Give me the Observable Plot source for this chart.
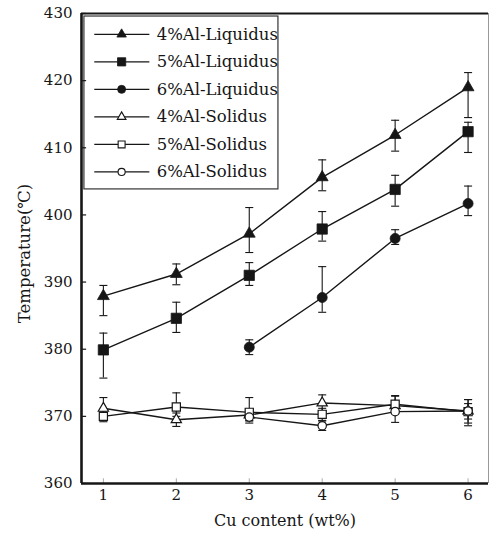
<!DOCTYPE html>
<html>
<head>
<meta charset="utf-8">
<script src="https://cdn.jsdelivr.net/npm/d3@7"></script>
<script src="https://cdn.jsdelivr.net/npm/@observablehq/plot@0.6"></script>
<style>
  html, body { margin: 0; padding: 0; background: #fff; }
</style>
</head>
<body>
<div id="chart"></div>
<script>
// ---- data ----
const cu = [1, 2, 3, 4, 5, 6];
const xTicks = [1, 2, 3, 4, 5, 6];
const yTicks = [360, 370, 380, 390, 400, 410, 420, 430];

const seriesNames = ["4%Al-Liquidus", "5%Al-Liquidus", "6%Al-Liquidus", "4%Al-Solidus", "5%Al-Solidus", "6%Al-Solidus"];
const seriesSymbols = ["triangle", "square", "circle", "triangle", "square", "circle"];
const seriesFilled = [true, true, true, false, false, false];

const liq4 = [387.9, 391.2, 397.2, 405.6, 411.9, 419.0];
const liq4Lo = [385.0, 389.6, 394.4, 403.6, 409.5, 414.5];
const liq4Hi = [389.5, 392.7, 401.1, 408.2, 414.1, 421.2];

const liq5 = [379.9, 384.6, 391.0, 397.9, 403.8, 412.4];
const liq5Lo = [375.7, 382.5, 389.5, 396.1, 401.3, 409.3];
const liq5Hi = [382.4, 387.0, 392.9, 400.5, 405.9, 413.8];

const liq6 = [null, null, 380.3, 387.7, 396.5, 401.7];
const liq6Lo = [null, null, 379.2, 385.5, 395.6, 399.9];
const liq6Hi = [null, null, 381.4, 392.3, 397.8, 404.3];

const sol4 = [371.2, 369.5, 370.2, 372.0, 371.6, 370.8];
const sol4Lo = [369.8, 368.5, 369.4, 370.8, 370.4, 369.0];
const sol4Hi = [372.8, 370.5, 371.0, 373.2, 373.0, 372.5];

const sol5 = [370.0, 371.4, 370.6, 370.3, 371.8, 370.7];
const sol5Lo = [369.2, 370.0, 369.0, 369.4, 370.5, 368.6];
const sol5Hi = [370.8, 373.5, 372.8, 371.2, 373.1, 372.5];

const sol6 = [null, null, 369.9, 368.6, 370.7, 370.8];
const sol6Lo = [null, null, 369.3, 367.9, 369.1, 369.6];
const sol6Hi = [null, null, 370.5, 369.3, 371.6, 371.9];

const seriesValues = [liq4, liq5, liq6, sol4, sol5, sol6];
const seriesLo = [liq4Lo, liq5Lo, liq6Lo, sol4Lo, sol5Lo, sol6Lo];
const seriesHi = [liq4Hi, liq5Hi, liq6Hi, sol4Hi, sol5Hi, sol6Hi];

// ---- build tables ----
const rows = [];
seriesNames.forEach((name, s) => {
  cu.forEach((x, i) => {
    const v = seriesValues[s][i];
    if (v != null) rows.push({series: name, s, x, y: v, lo: seriesLo[s][i], hi: seriesHi[s][i]});
  });
});

const xDomain = [0.70, 6.28];
const yDomain = [360, 430];
const ink = "#161616";
const capHalf = 0.055;

function symbolSize(s) {
  if (seriesFilled[s]) return seriesSymbols[s] === "triangle" ? 4.4 : seriesSymbols[s] === "square" ? 5.8 : 5;
  return seriesSymbols[s] === "triangle" ? 3.8 : seriesSymbols[s] === "square" ? 4.6 : 4.2;
}

// legend table (data coords derived from series index)
const legend = seriesNames.map((name, s) => ({
  name, s,
  y: 426.9 - s * 4.1,
  x1: 0.875, x2: 1.63, xm: 1.25, xt: 1.73
}));

const marks = [];

// lines
marks.push(Plot.lineY(rows, {x: "x", y: "y", z: "series", stroke: ink, strokeWidth: 1.4}));
// error bars
marks.push(Plot.ruleX(rows, {x: "x", y1: "lo", y2: "hi", stroke: ink, strokeWidth: 1.1}));
marks.push(Plot.link(rows, {x1: d => d.x - capHalf, x2: d => d.x + capHalf, y1: "hi", y2: "hi", stroke: ink, strokeWidth: 1.1}));
marks.push(Plot.link(rows, {x1: d => d.x - capHalf, x2: d => d.x + capHalf, y1: "lo", y2: "lo", stroke: ink, strokeWidth: 1.1}));
// symbols
seriesNames.forEach((name, s) => {
  marks.push(Plot.dot(rows.filter(d => d.s === s), {
    x: "x", y: "y", symbol: seriesSymbols[s], r: symbolSize(s),
    fill: seriesFilled[s] ? ink : "white", stroke: ink, strokeWidth: seriesFilled[s] ? 0.8 : 1.2
  }));
});

// legend box
marks.push(Plot.rect([{}], {x1: 0.74, x2: 3.40, y1: 403.8, y2: 429.55, fill: "white", stroke: "#333", strokeWidth: 1.2}));
marks.push(Plot.link(legend, {x1: "x1", x2: "x2", y1: "y", y2: "y", stroke: ink, strokeWidth: 1.3}));
seriesNames.forEach((name, s) => {
  marks.push(Plot.dot(legend.filter(d => d.s === s), {
    x: "xm", y: "y", symbol: seriesSymbols[s], r: seriesFilled[s] ? symbolSize(s) * 0.8 : symbolSize(s) * 0.85,
    fill: seriesFilled[s] ? ink : "white", stroke: ink, strokeWidth: seriesFilled[s] ? 0.8 : 1.1
  }));
});
marks.push(Plot.text(legend, {x: "xt", y: "y", text: "name", textAnchor: "start", fontSize: 16.5, fill: ink}));

// inward ticks
marks.push(Plot.ruleY(yTicks, {x1: xDomain[0], x2: xDomain[0] + 0.07, stroke: ink, strokeWidth: 1.2}));
marks.push(Plot.ruleX(xTicks, {y1: yDomain[0], y2: yDomain[0] + 0.7, stroke: "#aaa", strokeWidth: 1}));

// frame
marks.push(Plot.ruleX([xDomain[0]], {stroke: ink, strokeWidth: 2.6}));
marks.push(Plot.ruleY([yDomain[0]], {stroke: ink, strokeWidth: 2.6}));
marks.push(Plot.ruleY([yDomain[1]], {stroke: ink, strokeWidth: 2}));
marks.push(Plot.ruleX([xDomain[1]], {stroke: "#999", strokeWidth: 1}));

// axes
marks.push(Plot.axisY({ticks: yTicks, tickFormat: d3.format("d"), tickSize: 0, tickPadding: 9, fontSize: 15, label: null}));
marks.push(Plot.axisX({ticks: xTicks, tickFormat: d3.format("d"), tickSize: 0, tickPadding: 6, fontSize: 15, label: null}));
marks.push(Plot.text(["Temperature(℃)"], {frameAnchor: "left", textAnchor: "middle", lineAnchor: "middle", rotate: -90, dx: -57, dy: 5, fontSize: 16.5, fill: ink}));
marks.push(Plot.text(["Cu content (wt%)"], {frameAnchor: "bottom", textAnchor: "middle", dy: 42, fontSize: 16, fill: ink}));

const chart = Plot.plot({
  width: 491,
  height: 537,
  marginLeft: 81,
  marginRight: 3,
  marginTop: 13,
  marginBottom: 54,
  x: {domain: xDomain},
  y: {domain: yDomain},
  style: {fontFamily: "'DejaVu Serif', 'Liberation Serif', serif", color: ink, background: "white", overflow: "visible"},
  marks
});
document.getElementById("chart").appendChild(chart);
</script>
</body>
</html>
